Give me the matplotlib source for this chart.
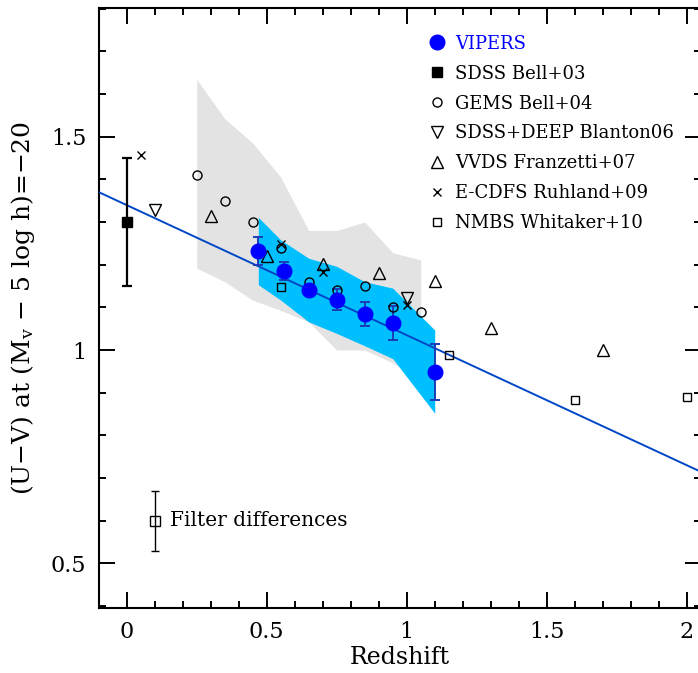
import matplotlib
matplotlib.use('Agg')
import matplotlib.pyplot as plt
from matplotlib.ticker import MultipleLocator, FormatStrFormatter

plt.rcParams['font.family'] = ['DejaVu Serif']
plt.rcParams['mathtext.fontset'] = 'dejavuserif'

# VIPERS points
vipers_z = [0.47, 0.56, 0.65, 0.75, 0.85, 0.95, 1.10]
vipers_uv = [1.232, 1.186, 1.141, 1.118, 1.085, 1.063, 0.949]
vipers_err = [0.032, 0.021, 0.012, 0.025, 0.028, 0.040, 0.066]

# VIPERS shaded band
band_z = [0.47, 0.55, 0.65, 0.75, 0.85, 0.95, 1.10]
band_hi = [1.311, 1.258, 1.215, 1.196, 1.160, 1.145, 1.047]
band_lo = [1.153, 1.117, 1.066, 1.039, 1.010, 0.980, 0.852]

# grey band
grey_z = [0.25, 0.35, 0.45, 0.55, 0.65, 0.75, 0.85, 0.95, 1.05]
grey_hi = [1.634, 1.542, 1.485, 1.405, 1.280, 1.280, 1.300, 1.228, 1.211]
grey_lo = [1.192, 1.160, 1.117, 1.093, 1.066, 1.000, 1.000, 0.970, 0.930]

# fitted line (end points)
fit_z = [-0.1, 2.05]
fit_uv = [1.370, 0.715]

# literature
bell03_z, bell03_uv, bell03_err = [0.0], [1.30], [0.15]
gems_z = [0.25, 0.35, 0.45, 0.55, 0.65, 0.75, 0.85, 0.95, 1.05]
gems_uv = [1.411, 1.350, 1.300, 1.239, 1.160, 1.141, 1.150, 1.100, 1.088]
blanton_z = [0.10, 1.00]
blanton_uv = [1.327, 1.121]
vvds_z = [0.30, 0.50, 0.70, 0.90, 1.10, 1.30, 1.70]
vvds_uv = [1.313, 1.221, 1.201, 1.181, 1.162, 1.051, 1.000]
ecdfs_z = [0.05, 0.55, 0.70, 1.00]
ecdfs_uv = [1.458, 1.249, 1.182, 1.106]
nmbs_z = [0.55, 1.15, 1.60, 2.00]
nmbs_uv = [1.147, 0.988, 0.884, 0.889]

# filter-difference example error bar
filt_z, filt_uv, filt_err = [0.1], [0.6], [0.07]

fig = plt.figure(figsize=(6.98, 6.73), dpi=100)
ax = fig.add_axes([0.1414, 0.0961, 0.8625, 0.8925])

ax.fill_between(grey_z, grey_lo, grey_hi, color='#e3e3e3', lw=0, zorder=1)
ax.fill_between(band_z, band_lo, band_hi, color='#00bfff', lw=0, zorder=2)
ax.plot(fit_z, fit_uv, color='#0047c8', lw=1.4, zorder=3)

ax.errorbar(vipers_z, vipers_uv, yerr=vipers_err, fmt='none', ecolor='#1a3cb8',
            elinewidth=1.4, capsize=3.3, capthick=1.4, zorder=4)
ax.plot(vipers_z, vipers_uv, 'o', color='#0000ff', ms=10.5, mec='#0000ff',
        zorder=6, label='VIPERS')

ax.errorbar(bell03_z, bell03_uv, yerr=bell03_err, fmt='none', ecolor='k',
            elinewidth=1.6, capsize=3.6, capthick=1.6, zorder=4)
ax.plot(bell03_z, bell03_uv, 's', color='k', ms=7.5, zorder=5, label='SDSS Bell+03')

ax.plot(gems_z, gems_uv, 'o', mfc='none', mec='k', mew=1.0, ms=6.5, zorder=5,
        label='GEMS Bell+04')
ax.plot(blanton_z, blanton_uv, 'v', mfc='none', mec='k', mew=1.0, ms=9, zorder=5,
        label='SDSS+DEEP Blanton06')
ax.plot(vvds_z, vvds_uv, '^', mfc='none', mec='k', mew=1.0, ms=9, zorder=5,
        label='VVDS Franzetti+07')
ax.plot(ecdfs_z, ecdfs_uv, 'x', color='k', mew=1.0, ms=6, zorder=5,
        label='E-CDFS Ruhland+09')
ax.plot(nmbs_z, nmbs_uv, 's', mfc='none', mec='k', mew=1.0, ms=6, zorder=5,
        label='NMBS Whitaker+10')

ax.errorbar(filt_z, filt_uv, yerr=filt_err, fmt='s', mfc='none', mec='k', mew=1.0,
            ms=6.5, ecolor='k', elinewidth=1.0, capsize=3, capthick=1.0, zorder=5)
ax.text(0.155, 0.6, 'Filter differences', fontsize=14.5, va='center', ha='left')

leg = ax.legend(loc='upper left', bbox_to_anchor=(0.5465, 0.955), frameon=False,
                fontsize=13, handlelength=1.0, handletextpad=0.5, labelspacing=0.66,
                borderpad=0, borderaxespad=0, numpoints=1)
leg.get_texts()[0].set_color('#0000ff')

ax.set_xlim(-0.1, 2.05)
ax.set_ylim(0.395, 1.802)
ax.xaxis.set_major_locator(MultipleLocator(0.5))
ax.xaxis.set_minor_locator(MultipleLocator(0.1))
ax.yaxis.set_major_locator(MultipleLocator(0.5))
ax.yaxis.set_minor_locator(MultipleLocator(0.1))
ax.xaxis.set_major_formatter(FormatStrFormatter('%g'))
ax.yaxis.set_major_formatter(FormatStrFormatter('%g'))
ax.tick_params(which='both', direction='in', top=True, right=True, width=1.4,
               labelsize=16)
ax.tick_params(which='major', length=11.5, pad=9)
ax.tick_params(which='minor', length=5)
for s in ax.spines.values():
    s.set_linewidth(1.5)

ax.set_xlabel('Redshift', fontsize=17, labelpad=2)
ax.set_ylabel(r'(U$-$V) at (M$_{\rm v}$ $-$ 5 log h)=$-$20', fontsize=18, labelpad=10)

plt.savefig('out.png', dpi=100)
